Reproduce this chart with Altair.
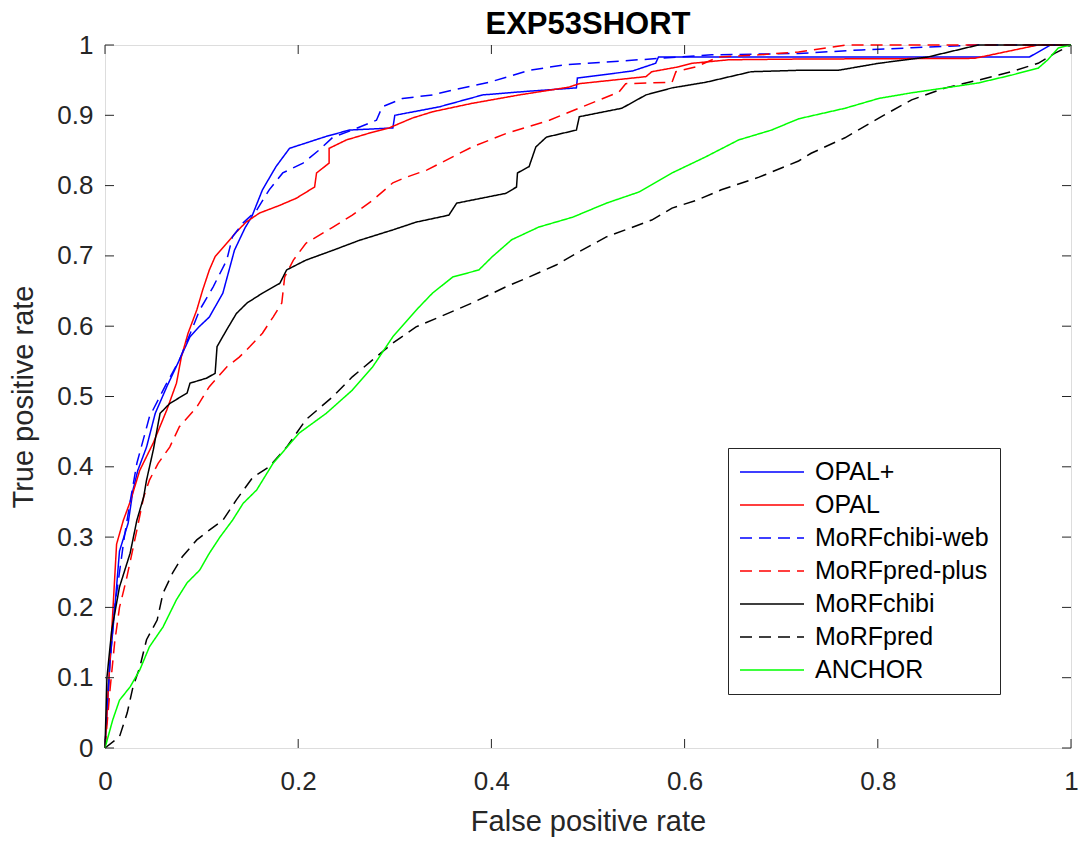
import altair as alt
import pandas as pd

# ---------------- data ----------------
names = ["OPAL+", "OPAL", "MoRFchibi-web", "MoRFpred-plus", "MoRFchibi", "MoRFpred", "ANCHOR"]
colors = ["#0000ff", "#ff0000", "#0000ff", "#ff0000", "#000000", "#000000", "#00ff00"]
dashes = [[1, 0], [1, 0], [12, 7], [12, 7], [1, 0], [12, 7], [1, 0]]

opalp_x = [0, 0.005, 0.010, 0.015, 0.024, 0.029, 0.034, 0.043, 0.052, 0.064,
           0.077, 0.088, 0.098, 0.108, 0.122, 0.134, 0.145, 0.152, 0.163, 0.177,
           0.191, 0.229, 0.253, 0.298, 0.300, 0.346, 0.391, 0.436, 0.488, 0.489,
           0.546, 0.570, 0.573, 0.957, 0.979, 1.0]
opalp_y = [0, 0.12, 0.196, 0.28, 0.32, 0.367, 0.395, 0.428, 0.476, 0.514,
           0.552, 0.585, 0.60, 0.613, 0.647, 0.708, 0.74, 0.756, 0.794, 0.827,
           0.853, 0.870, 0.879, 0.882, 0.900, 0.912, 0.929, 0.934, 0.939, 0.953,
           0.963, 0.974, 0.983, 0.983, 1.0, 1.0]

opal_x = [0, 0.004, 0.008, 0.012, 0.019, 0.026, 0.036, 0.050, 0.064, 0.074,
          0.079, 0.086, 0.095, 0.101, 0.108, 0.114, 0.126, 0.136, 0.146, 0.160,
          0.181, 0.198, 0.217, 0.219, 0.232, 0.232, 0.250, 0.277, 0.294, 0.318,
          0.339, 0.380, 0.429, 0.480, 0.491, 0.560, 0.566, 0.594, 0.608, 0.646,
          0.718, 0.900, 0.966, 1.0]
opal_y = [0, 0.097, 0.192, 0.29, 0.324, 0.35, 0.395, 0.434, 0.481, 0.519,
          0.556, 0.59, 0.623, 0.651, 0.68, 0.699, 0.718, 0.734, 0.748, 0.761,
          0.772, 0.782, 0.798, 0.818, 0.832, 0.853, 0.865, 0.876, 0.882, 0.896,
          0.905, 0.917, 0.929, 0.940, 0.945, 0.955, 0.962, 0.969, 0.974, 0.979,
          0.980, 0.981, 1.0, 1.0]

cweb_x = [0, 0.005, 0.01, 0.02, 0.026, 0.033, 0.046, 0.062, 0.077, 0.091,
          0.098, 0.112, 0.126, 0.132, 0.143, 0.157, 0.170, 0.184, 0.205, 0.222,
          0.236, 0.256, 0.281, 0.287, 0.308, 0.339, 0.360, 0.398, 0.439, 0.477,
          0.553, 0.628, 0.718, 0.783, 0.835, 0.9, 1.0]
cweb_y = [0, 0.12, 0.2, 0.3, 0.35, 0.405, 0.471, 0.514, 0.552, 0.599,
          0.623, 0.656, 0.694, 0.727, 0.747, 0.765, 0.794, 0.818, 0.832, 0.851,
          0.869, 0.879, 0.893, 0.912, 0.924, 0.929, 0.936, 0.947, 0.964, 0.972,
          0.979, 0.986, 0.988, 0.993, 0.996, 1.0, 1.0]

pplus_x = [0, 0.005, 0.01, 0.015, 0.022, 0.033, 0.040, 0.046, 0.055, 0.067,
           0.077, 0.095, 0.108, 0.126, 0.139, 0.150, 0.163, 0.174, 0.183, 0.186,
           0.195, 0.208, 0.236, 0.256, 0.277, 0.298, 0.312, 0.333, 0.380, 0.415,
           0.460, 0.494, 0.532, 0.539, 0.587, 0.591, 0.612, 0.635, 0.677, 0.718,
           0.767, 1.0]
pplus_y = [0, 0.08, 0.15, 0.2, 0.239, 0.31, 0.357, 0.381, 0.405, 0.428,
           0.457, 0.485, 0.514, 0.542, 0.556, 0.571, 0.590, 0.613, 0.633, 0.670,
           0.694, 0.718, 0.741, 0.758, 0.779, 0.804, 0.812, 0.822, 0.855, 0.874,
           0.893, 0.912, 0.933, 0.945, 0.947, 0.962, 0.969, 0.983, 0.986, 0.990,
           1.0, 1.0]

chibi_x = [0, 0.002, 0.007, 0.015, 0.026, 0.033, 0.040, 0.043, 0.050, 0.057,
           0.067, 0.085, 0.088, 0.105, 0.114, 0.116, 0.126, 0.136, 0.147, 0.163,
           0.181, 0.188, 0.208, 0.236, 0.263, 0.298, 0.322, 0.356, 0.364, 0.415,
           0.426, 0.427, 0.439, 0.446, 0.457, 0.488, 0.491, 0.535, 0.560, 0.587,
           0.622, 0.669, 0.718, 0.759, 0.801, 0.852, 0.904, 1.0]
chibi_y = [0, 0.1, 0.168, 0.229, 0.277, 0.324, 0.357, 0.381, 0.424, 0.476,
           0.490, 0.505, 0.519, 0.526, 0.533, 0.571, 0.595, 0.618, 0.633, 0.647,
           0.661, 0.680, 0.694, 0.708, 0.722, 0.737, 0.748, 0.758, 0.775, 0.789,
           0.798, 0.818, 0.827, 0.855, 0.869, 0.879, 0.898, 0.910, 0.929, 0.939,
           0.947, 0.962, 0.964, 0.964, 0.974, 0.983, 1.0, 1.0]

mpred_x = [0, 0.015, 0.023, 0.029, 0.036, 0.043, 0.054, 0.060, 0.070, 0.080,
           0.095, 0.108, 0.122, 0.136, 0.153, 0.170, 0.188, 0.208, 0.236, 0.256,
           0.277, 0.298, 0.322, 0.346, 0.380, 0.415, 0.439, 0.467, 0.491, 0.519,
           0.566, 0.587, 0.612, 0.638, 0.677, 0.718, 0.731, 0.766, 0.801, 0.835,
           0.870, 0.904, 0.938, 0.966, 0.983, 1.0]
mpred_y = [0, 0.016, 0.050, 0.087, 0.115, 0.154, 0.182, 0.22, 0.249, 0.272,
           0.296, 0.310, 0.324, 0.353, 0.385, 0.400, 0.428, 0.467, 0.500, 0.528,
           0.552, 0.576, 0.599, 0.613, 0.633, 0.656, 0.670, 0.687, 0.706, 0.727,
           0.751, 0.768, 0.779, 0.794, 0.812, 0.835, 0.846, 0.868, 0.896, 0.922,
           0.939, 0.950, 0.962, 0.974, 0.988, 1.0]

anchor_x = [0, 0.008, 0.015, 0.026, 0.036, 0.046, 0.060, 0.074, 0.085, 0.098,
            0.108, 0.119, 0.132, 0.143, 0.157, 0.174, 0.201, 0.229, 0.256, 0.277,
            0.298, 0.325, 0.339, 0.360, 0.387, 0.401, 0.421, 0.449, 0.484, 0.519,
            0.553, 0.587, 0.622, 0.656, 0.690, 0.718, 0.766, 0.801, 0.835, 0.870,
            0.904, 0.938, 0.966, 0.976, 0.987, 1.0]
anchor_y = [0, 0.040, 0.068, 0.087, 0.111, 0.144, 0.172, 0.211, 0.235, 0.253,
            0.277, 0.300, 0.324, 0.348, 0.367, 0.405, 0.448, 0.476, 0.509, 0.542,
            0.585, 0.627, 0.647, 0.670, 0.680, 0.699, 0.723, 0.741, 0.755, 0.775,
            0.791, 0.818, 0.841, 0.865, 0.879, 0.895, 0.910, 0.924, 0.932, 0.939,
            0.946, 0.957, 0.967, 0.979, 0.996, 1.0]

x_ticks = [0, 0.2, 0.4, 0.6, 0.8, 1]
y_ticks = [0, 0.1, 0.2, 0.3, 0.4, 0.5, 0.6, 0.7, 0.8, 0.9, 1]

# ---------------- build table ----------------
series_data = [
    ("OPAL+", opalp_x, opalp_y),
    ("OPAL", opal_x, opal_y),
    ("MoRFchibi-web", cweb_x, cweb_y),
    ("MoRFpred-plus", pplus_x, pplus_y),
    ("MoRFchibi", chibi_x, chibi_y),
    ("MoRFpred", mpred_x, mpred_y),
    ("ANCHOR", anchor_x, anchor_y),
]
rows = []
for name, xs, ys in series_data:
    assert len(xs) == len(ys), name
    for i, (xv, yv) in enumerate(zip(xs, ys)):
        rows.append({"series": name, "fpr": xv, "tpr": yv, "idx": i})
df = pd.DataFrame(rows)

W, H = 966, 703
FONT = "Liberation Sans"
TXT = "#262626"
TL = 9  # inward tick length

xscale = alt.Scale(domain=[0, 1], nice=False, zero=False)
yscale = alt.Scale(domain=[0, 1], nice=False, zero=False)

xaxis = alt.Axis(values=x_ticks, title="False positive rate", ticks=False, domain=False, grid=False,
                 labelFontSize=26, labelFont=FONT, labelColor=TXT, labelPadding=20,
                 titleFontSize=29, titleFont=FONT, titleColor=TXT, titleFontWeight="normal",
                 titlePadding=13, labelFlush=False, format="~g")
yaxis = alt.Axis(values=y_ticks, title="True positive rate", ticks=False, domain=False, grid=False,
                 labelFontSize=26, labelFont=FONT, labelColor=TXT, labelPadding=12,
                 titleFontSize=29, titleFont=FONT, titleColor=TXT, titleFontWeight="normal",
                 titlePadding=18, labelFlush=False, format="~g")

legend_props = dict(
    title=None, orient="none", legendX=623, legendY=403,
    strokeColor=TXT, fillColor="#ffffff", padding=11,
    symbolType="stroke", symbolSize=4096, symbolStrokeWidth=1.5,
    labelFontSize=25, labelFont=FONT, labelColor="#000000", labelOffset=10,
    clipHeight=26, rowPadding=7, labelLimit=400,
)

lines = alt.Chart(df).mark_line(strokeWidth=1.5, interpolate="linear").encode(
    x=alt.X("fpr:Q", scale=xscale, axis=xaxis),
    y=alt.Y("tpr:Q", scale=yscale, axis=yaxis),
    color=alt.Color("series:N", scale=alt.Scale(domain=names, range=colors),
                    legend=alt.Legend(**legend_props)),
    strokeDash=alt.StrokeDash("series:N", scale=alt.Scale(domain=names, range=dashes),
                              legend=alt.Legend(**legend_props)),
    order=alt.Order("idx:Q"),
)

xt = pd.DataFrame({"fpr": x_ticks})
yt = pd.DataFrame({"tpr": y_ticks})

tick_style = dict(color=TXT, strokeWidth=1)
bottom_ticks = alt.Chart(xt).mark_rule(**tick_style).encode(
    x=alt.X("fpr:Q", scale=xscale), y=alt.value(H), y2=alt.value(H - TL))
top_ticks = alt.Chart(xt).mark_rule(**tick_style).encode(
    x=alt.X("fpr:Q", scale=xscale), y=alt.value(0), y2=alt.value(TL))
left_ticks = alt.Chart(yt).mark_rule(**tick_style).encode(
    y=alt.Y("tpr:Q", scale=yscale), x=alt.value(0), x2=alt.value(TL))
right_ticks = alt.Chart(yt).mark_rule(**tick_style).encode(
    y=alt.Y("tpr:Q", scale=yscale), x=alt.value(W), x2=alt.value(W - TL))

chart = alt.layer(lines, bottom_ticks, top_ticks, left_ticks, right_ticks).properties(
    width=W, height=H,
    title=alt.TitleParams("EXP53SHORT", font=FONT, fontSize=31, fontWeight="bold",
                          color="#000000", anchor="middle", offset=-9),
    autosize=alt.AutoSizeParams(type="none"),
    padding={"left": 105, "top": 45, "right": 8, "bottom": 93},
).configure_view(
    stroke=TXT, strokeWidth=1.2
).configure(background="#ffffff")

chart.save("out.html", embed_options={"renderer": "svg", "actions": False})
